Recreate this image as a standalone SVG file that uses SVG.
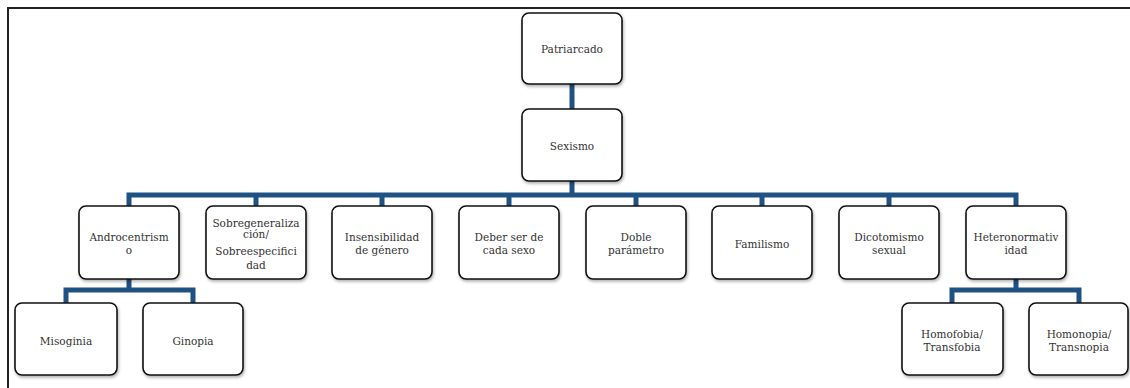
<svg xmlns="http://www.w3.org/2000/svg" width="1130" height="388" viewBox="0 0 1130 388">
<defs>
<filter id="sh" x="-10%" y="-10%" width="130%" height="140%">
<feDropShadow dx="1" dy="2" stdDeviation="1.5" flood-color="#000" flood-opacity="0.3"/>
</filter>
<style>
.box{fill:#fff;stroke:#111;stroke-width:1.6;filter:url(#sh)}
.t{font-family:"DejaVu Serif","Liberation Serif",serif;font-size:10.5px;fill:#333;text-anchor:middle}
.c{fill:none;stroke:#1f5283;stroke-width:5;stroke-linejoin:miter}
</style>
</defs>
<rect width="1130" height="388" fill="#fff"/>
<path d="M8,388 V8 H1130" fill="none" stroke="#222" stroke-width="2"/>
<g id="connectors">
<path class="c" d="M572,84 V109"/>
<path class="c" d="M572,181 V195"/>
<path class="c" d="M129,206 V195 H1016 V206"/>
<path class="c" d="M256,195 V206 M382,195 V206 M509,195 V206 M636,195 V206 M762,195 V206 M889,195 V206"/>
<path class="c" d="M129,279 V290 M66,303 V290 H193 V303"/>
<path class="c" d="M1016,279 V290 M952,303 V290 H1079 V303"/>
</g>
<g id="patriarcado"><rect class="box" x="522" y="13" width="100" height="71" rx="7"/><text class="t" x="572" y="53">Patriarcado</text></g>
<g id="sexismo"><rect class="box" x="522" y="109" width="100" height="72" rx="7"/><text class="t" x="572" y="150">Sexismo</text></g>
<g id="androcentrismo"><rect class="box" x="79" y="206" width="100" height="73" rx="7"/><text class="t" x="129" y="240.5">Androcentrism</text><text class="t" x="129" y="254">o</text></g>
<g id="sobregeneralizacion"><rect class="box" x="206" y="206" width="100" height="73" rx="7"/><text class="t" x="256" y="226.5">Sobregeneraliza</text><text class="t" x="256" y="238">ción/</text><text class="t" x="256" y="255">Sobreespecifici</text><text class="t" x="256" y="268.5">dad</text></g>
<g id="insensibilidad"><rect class="box" x="332" y="206" width="100" height="73" rx="7"/><text class="t" x="382" y="240.5">Insensibilidad</text><text class="t" x="382" y="254">de género</text></g>
<g id="deber"><rect class="box" x="459" y="206" width="100" height="73" rx="7"/><text class="t" x="509" y="240.5">Deber ser de</text><text class="t" x="509" y="254">cada sexo</text></g>
<g id="doble"><rect class="box" x="586" y="206" width="100" height="73" rx="7"/><text class="t" x="636" y="240.5">Doble</text><text class="t" x="636" y="254">parámetro</text></g>
<g id="familismo"><rect class="box" x="712" y="206" width="100" height="73" rx="7"/><text class="t" x="762" y="247.5">Familismo</text></g>
<g id="dicotomismo"><rect class="box" x="839" y="206" width="100" height="73" rx="7"/><text class="t" x="889" y="240.5">Dicotomismo</text><text class="t" x="889" y="254">sexual</text></g>
<g id="heteronormatividad"><rect class="box" x="966" y="206" width="100" height="73" rx="7"/><text class="t" x="1016" y="240.5">Heteronormativ</text><text class="t" x="1016" y="254">idad</text></g>
<g id="misoginia"><rect class="box" x="15" y="303" width="102" height="72" rx="7"/><text class="t" x="66" y="345">Misoginia</text></g>
<g id="ginopia"><rect class="box" x="143" y="303" width="100" height="72" rx="7"/><text class="t" x="193" y="345">Ginopia</text></g>
<g id="homofobia"><rect class="box" x="902" y="303" width="101" height="72" rx="7"/><text class="t" x="952" y="337.5">Homofobia/</text><text class="t" x="952" y="350.5">Transfobia</text></g>
<g id="homonopia"><rect class="box" x="1029" y="303" width="99" height="72" rx="7"/><text class="t" x="1079" y="337.5">Homonopia/</text><text class="t" x="1079" y="350.5">Transnopia</text></g>
</svg>
